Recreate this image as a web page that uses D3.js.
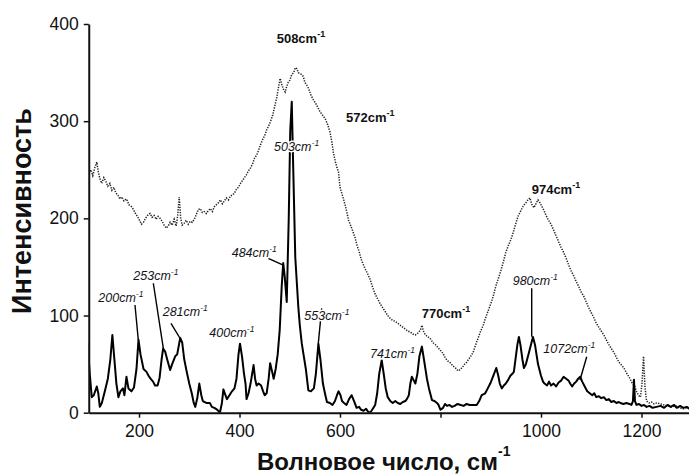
<!DOCTYPE html>
<html>
<head>
<meta charset="utf-8">
<script src="https://cdn.jsdelivr.net/npm/d3@7/dist/d3.min.js"></script>
<style>
  body { margin: 0; background: #fff; }
  svg { display: block; font-family: Arial, "Liberation Sans", sans-serif; }
</style>
</head>
<body>
<div id="chart"></div>
<script>
// solid spectrum (sharp Raman lines)
const solidWn = [98,102,106,110,116,119,122,126,132,138,143,147,151,155,159,163,168,171,175,179,185,190,195,199,203,209,215,219,223,228,232,237,241,245,248,252,256,262,266,272,276,282,286,290,295,300,305,309,312,316,320,324,327,334,341,345,350,356,361,365,368,372,375,380,385,390,394,398,401,405,409,412,414,418,422,428,431,434,438,443,447,450,454,458,461,465,468,472,476,480,484,487,490,494,498,501,504,507,511,517,520,524,528,532,537,542,548,552,557,561,566,570,574,580,585,590,594,597,601,604,608,613,618,623,628,633,638,642,647,652,656,660,664,670,674,678,683,687,691,695,700,705,710,715,720,725,730,733,737,740,743,747,750,754,758,763,767,770,773,777,783,788,793,796,800,805,809,813,818,823,828,834,840,846,852,858,864,872,877,882,889,894,899,905,911,915,918,922,926,930,935,939,943,946,950,953,956,959,963,966,970,975,980,984,988,994,1000,1004,1007,1012,1016,1020,1025,1030,1035,1040,1045,1050,1055,1058,1062,1066,1070,1074,1078,1082,1087,1092,1097,1102,1106,1110,1115,1120,1125,1130,1135,1140,1145,1150,1155,1158,1164,1170,1176,1180,1183,1185,1187,1190,1195,1200,1205,1210,1216,1222,1230,1238,1245,1252,1258,1265,1270,1277,1283,1290,1295,1300];
const solidI = [72,40,16,18,27,20,6,10,22,35,55,80,55,30,16,22,25,18,37,25,22,26,45,75,60,45,42,38,35,32,28,28,36,55,66,63,55,44,50,58,60,77,72,55,42,30,20,10,6,15,30,18,12,10,10,6,5,3,0,10,24,18,14,18,22,25,35,60,71,58,40,30,14,20,30,49,35,28,30,28,22,18,20,35,51,42,35,45,60,85,130,154,140,114,200,290,320,250,160,109,90,71,58,45,23,22,25,40,71,55,30,20,11,10,8,12,18,22,18,12,10,8,14,18,12,5,6,3,2,4,1,0,3,8,20,40,54,40,25,16,12,10,12,10,9,11,12,14,18,30,37,33,30,40,58,68,55,45,35,25,13,12,10,8,3,5,9,7,8,6,7,9,8,7,9,8,8,8,12,18,20,25,30,38,46,38,30,25,28,30,34,38,40,42,58,70,78,70,55,46,50,60,70,78,70,50,38,32,30,28,32,28,30,27,31,33,37,35,33,30,27,30,32,35,37,32,27,22,20,18,20,16,17,15,16,13,14,11,12,10,11,10,9,10,9,8,12,34,12,8,9,7,8,6,7,5,6,7,5,8,6,8,5,7,5,6,4,5];

// dotted spectrum (broad bands)
const dottedWn = [100,104,108,112,116,119,122,126,130,134,138,142,146,150,154,158,162,166,170,175,180,185,189,193,197,201,205,209,213,217,222,226,230,234,238,242,246,250,254,258,262,266,270,274,277,280,283,286,290,294,298,302,306,310,314,318,322,326,330,334,338,342,346,350,354,358,362,366,370,374,378,382,386,390,394,398,402,406,410,414,418,422,426,430,434,438,442,446,450,454,458,462,466,470,474,478,481,484,488,491,494,497,500,504,508,511,514,517,520,524,527,530,534,538,542,547,552,556,560,564,567,571,575,580,584,587,591,594,597,600,604,608,612,617,621,626,630,634,638,642,646,650,655,660,665,670,675,680,685,690,695,700,705,710,715,720,725,730,735,740,745,750,755,760,763,766,770,775,780,785,790,795,800,805,810,815,820,825,830,833,836,840,844,848,852,856,860,865,870,875,880,885,890,895,900,905,910,915,920,925,930,935,940,945,950,955,960,965,970,974,978,982,986,990,994,998,1002,1006,1010,1015,1020,1025,1030,1035,1040,1045,1050,1055,1060,1065,1070,1075,1080,1085,1090,1095,1100,1105,1110,1115,1120,1125,1130,1135,1140,1145,1150,1155,1160,1165,1170,1175,1178,1182,1186,1190,1194,1198,1201,1204,1207,1210,1215,1220,1225,1230,1238,1245,1252,1260,1268,1275,1283,1290,1300];
const dottedI = [246,250,244,252,258,248,241,236,242,238,233,236,229,232,226,224,220,222,218,220,214,212,209,205,202,198,194,196,200,203,205,201,203,199,202,200,197,193,190,192,196,193,199,192,203,222,200,193,195,198,194,197,196,199,204,209,210,206,207,205,208,210,207,212,214,216,219,215,218,221,219,223,224,226,230,232,236,239,242,245,249,252,256,262,265,270,276,281,285,291,295,300,306,315,324,336,344,338,332,330,336,340,342,348,350,355,354,350,349,348,346,340,337,333,327,322,318,314,310,307,305,302,297,289,278,267,258,252,248,232,225,218,210,198,193,186,180,172,166,158,153,148,143,137,129,122,117,112,108,104,100,97,95,94,92,90,88,86,84,83,81,80,82,85,90,84,80,78,76,72,70,67,64,61,56,53,51,48,46,44,43,45,47,50,52,55,58,62,70,77,84,90,98,105,112,120,130,138,146,155,165,172,178,186,195,203,208,213,216,219,221,214,211,215,219,216,212,208,203,198,194,188,182,176,170,165,159,152,146,141,135,130,124,120,114,108,103,98,92,88,84,80,75,70,66,62,57,52,49,46,41,37,34,30,28,22,18,16,30,58,26,12,10,11,9,10,9,8,7,6,7,5,4,5,4];

const yTicks = [0, 100, 200, 300, 400];
const xTicks = [200, 400, 600, 800, 1000, 1200];
const xTickLabels = ['200', '400', '600', '', '1000', '1200'];

// band labels of the dotted curve (bold), anchor in [wavenumber, intensity]
const bandNames = ['508', '572', '974', '770'];
const bandAt = [[474, 380], [612, 299.5], [981.5, 224.7], [762.6, 97.1]];

// line labels of the solid curve (italic)
const lineNames = ['503', '484', '200', '253', '281', '400', '553', '741', '980', '1072'];
const lineAt = [[468.7, 269.3], [384.5, 160.5], [119, 114.2], [188.7, 136.6], [247.2, 99.5],
                [339.9, 78.2], [529, 95.4], [659.7, 56], [943.7, 131.4], [1004.6, 61.1]];

// leader lines from label to peak
const leaderFrom = [[457.2, 158.9], [192, 110.8], [228.5, 133.2], [263.7, 92], [563.6, 107.4], [981.5, 128], [1091, 57.6]];
const leaderTo = [[487.1, 151.9], [198.6, 74.8], [248.4, 66.3], [281.6, 76.6], [556.8, 71.4], [981.5, 78.2], [1077.6, 33.7]];

function drawSpectrum() {
  const width = 689, height = 474;

  const svg = d3.select('#chart').append('svg')
      .attr('width', width)
      .attr('height', height);

  const x = d3.scaleLinear().domain([100, 1300]).range([88.75, 691.75]);
  const y = d3.scaleLinear().domain([0, 400]).range([412.7, 24]);

  const line = d3.line()
      .x(d => x(d[0]))
      .y(d => y(d[1]));

  svg.append('clipPath').attr('id', 'plotClip')
    .append('rect')
      .attr('x', x(100)).attr('y', 0)
      .attr('width', width - x(100)).attr('height', y(0));

  const plot = svg.append('g').attr('clip-path', 'url(#plotClip)');

  plot.append('path')
      .datum(d3.zip(dottedWn, dottedI))
      .attr('d', line)
      .attr('fill', 'none')
      .attr('stroke', '#222')
      .attr('stroke-width', 1.5)
      .attr('stroke-dasharray', '1.3,1.3');

  plot.append('path')
      .datum(d3.zip(solidWn, solidI))
      .attr('d', line)
      .attr('fill', 'none')
      .attr('stroke', '#000')
      .attr('stroke-width', 2)
      .attr('stroke-linejoin', 'round');

  // axes
  const yAxis = svg.append('g')
      .attr('transform', `translate(${x(100)},0)`)
      .call(d3.axisLeft(y).tickValues(yTicks).tickSize(5).tickSizeOuter(0).tickPadding(5));

  const xAxis = svg.append('g')
      .attr('transform', `translate(0,${y(0)})`)
      .call(d3.axisBottom(x).tickValues(xTicks).tickSize(5).tickSizeOuter(0).tickPadding(7)
        .tickFormat((d, i) => xTickLabels[i]));

  [xAxis, yAxis].forEach(ax => {
    ax.select('.domain').attr('stroke', '#111').attr('stroke-width', 2);
    ax.selectAll('.tick line').attr('stroke', '#111').attr('stroke-width', 1.5);
    ax.selectAll('.tick text')
        .attr('fill', '#111')
        .style('font-size', '17.5px')
        .style('font-family', 'Arial, "Liberation Sans", sans-serif');
  });

  // leader lines
  svg.append('g').selectAll('line')
      .data(d3.zip(leaderFrom, leaderTo))
    .enter().append('line')
      .attr('x1', d => x(d[0][0])).attr('y1', d => y(d[0][1]))
      .attr('x2', d => x(d[1][0])).attr('y2', d => y(d[1][1]))
      .attr('stroke', '#000')
      .attr('stroke-width', 1.4);

  // italic labels with a white contour, so they cut the lines below
  const lineText = svg.append('g').selectAll('text')
      .data(d3.zip(lineNames, lineAt))
    .enter().append('text')
      .attr('x', d => x(d[1][0]))
      .attr('y', d => y(d[1][1]))
      .style('font-size', '12.5px')
      .style('font-style', 'italic')
      .attr('fill', '#141420')
      .attr('stroke', '#fff')
      .attr('stroke-width', 3)
      .attr('paint-order', 'stroke')
      .attr('stroke-linejoin', 'round');
  lineText.append('tspan').text(d => d[0] + 'cm');
  lineText.append('tspan').attr('dy', -5).style('font-size', '8.5px').text('-1');

  const bandText = svg.append('g').selectAll('text')
      .data(d3.zip(bandNames, bandAt))
    .enter().append('text')
      .attr('x', d => x(d[1][0]))
      .attr('y', d => y(d[1][1]))
      .style('font-size', '13px')
      .style('font-weight', 'bold')
      .attr('fill', '#111');
  bandText.append('tspan').text(d => d[0] + 'cm');
  bandText.append('tspan').attr('dy', -6).style('font-size', '9px').text('-1');

  // axis titles
  svg.append('text')
      .attr('transform', 'translate(31,211) rotate(-90)')
      .attr('text-anchor', 'middle')
      .style('font-size', '27px')
      .style('font-weight', 'bold')
      .attr('fill', '#111')
      .text('Интенсивность');

  const xTitle = svg.append('text')
      .attr('x', 257)
      .attr('y', 469.5)
      .style('font-size', '24px')
      .style('font-weight', 'bold')
      .attr('fill', '#111');
  xTitle.append('tspan').text('Волновое число, см');
  xTitle.append('tspan').attr('dy', -14).style('font-size', '14px').text('-1');
}

drawSpectrum();
</script>
</body>
</html>
